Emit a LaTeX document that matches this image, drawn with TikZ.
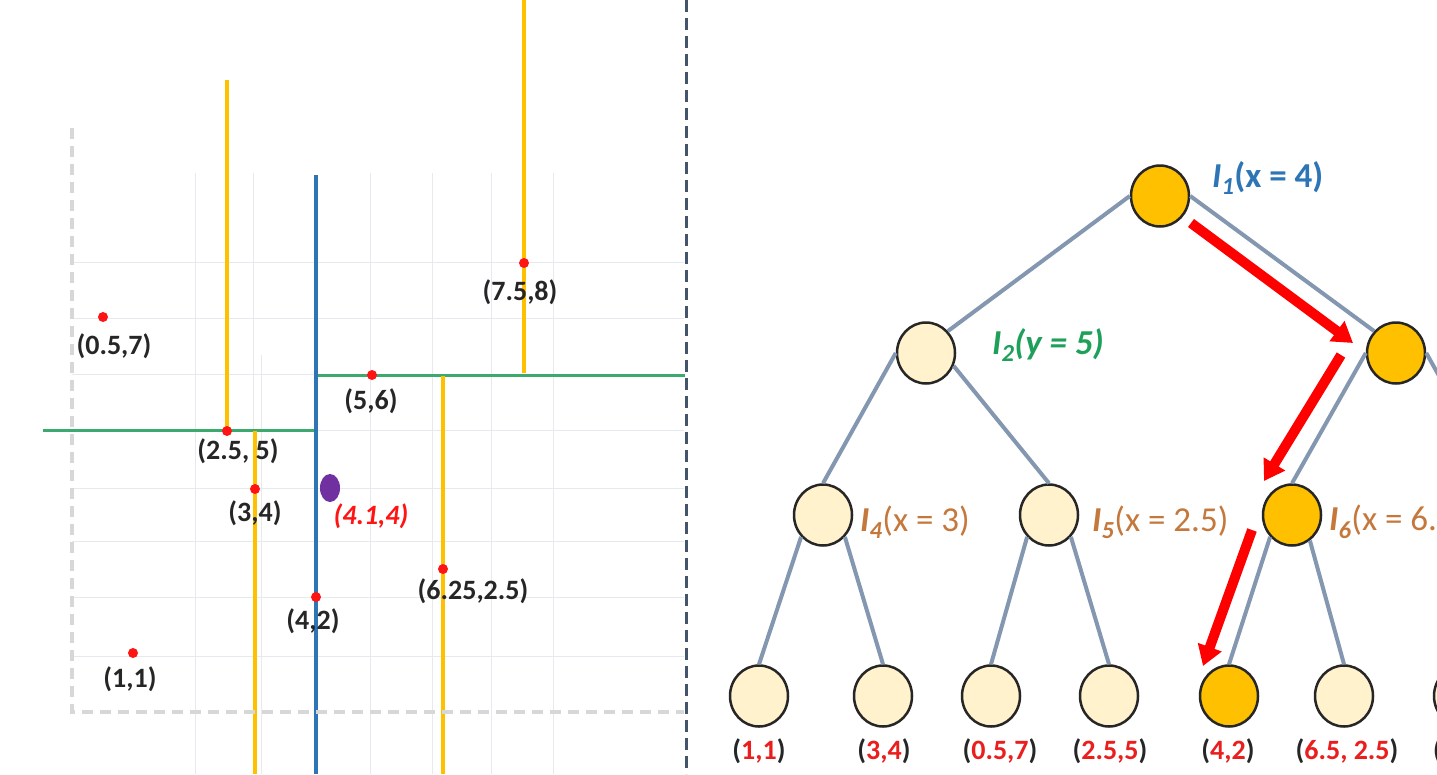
\documentclass[tikz,border=0pt]{standalone}
\usepackage{fontspec}
\setmainfont{Carlito}
\usetikzlibrary{arrows.meta,shapes.geometric}
\definecolor{gridc}{RGB}{230,234,239}
\definecolor{bndc}{RGB}{215,215,215}
\definecolor{divc}{RGB}{68,84,106}
\definecolor{splitblue}{RGB}{46,117,182}
\definecolor{splitgreen}{RGB}{60,170,110}
\definecolor{splityellow}{RGB}{255,192,0}
\definecolor{ptred}{RGB}{255,20,20}
\definecolor{qpurple}{RGB}{112,48,160}
\definecolor{edgec}{RGB}{132,151,176}
\definecolor{lightfill}{RGB}{255,242,204}
\definecolor{hotfill}{RGB}{255,192,0}
\definecolor{lblblue}{RGB}{46,117,182}
\definecolor{lblgreen}{RGB}{30,160,90}
\definecolor{lblorange}{RGB}{197,120,60}
\definecolor{leafred}{RGB}{235,30,30}
\newcommand{\lvsub}[1]{\textsubscript{#1}}
\begin{document}
\begin{tikzpicture}[x=1pt,y=-1pt,
  gridline/.style={draw=gridc,line width=1pt},
  pt/.style={circle,fill=ptred,inner sep=0pt,minimum size=10pt},
  ptlabel/.style={inner sep=0pt,font=\fontsize{28pt}{30pt}\selectfont\bfseries,text=black!85},
  treenode/.style={ellipse,draw=black!85,line width=2.5pt,minimum width=58pt,minimum height=61pt,inner sep=0pt},
  cool/.style={treenode,fill=lightfill},
  hot/.style={treenode,fill=hotfill},
  edge/.style={draw=edgec,line width=4pt},
  lvlabel/.style={anchor=west,inner sep=0pt,font=\fontsize{35pt}{37pt}\selectfont},
  leaflabel/.style={inner sep=0pt,font=\fontsize{28pt}{30pt}\selectfont\bfseries,text=black!85},
  searcharrow/.style={draw=red,line width=10pt,-{Triangle[width=24pt,length=20pt]}}
]
\useasboundingbox (0,0) rectangle (1437,774);
\clip (0,0) rectangle (1437,774);
\fill[white] (0,0) rectangle (1437,774);

% ---------- left panel: faint grid ----------
\foreach \gx in {195,253,370,432,491,553} \draw[gridline] (\gx,173) -- (\gx,774);
\draw[gridline] (261,355) -- (261,774);
\foreach \gy in {262,318,374,430,488,541,597,656} \draw[gridline] (72,\gy) -- (684,\gy);

% ---------- split lines ----------
\draw[draw=splitgreen,line width=3pt] (43,430) -- (316,430);
\draw[draw=splitgreen,line width=3pt] (316,375) -- (685,375);
\draw[draw=splityellow,line width=4pt] (227,80) -- (227,431);
\draw[draw=splityellow,line width=4pt] (255,431) -- (255,774);
\draw[draw=splityellow,line width=4pt] (443,376) -- (443,774);
\draw[draw=splityellow,line width=4pt] (524,0) -- (524,373);
\draw[draw=splitblue,line width=4pt] (316,175) -- (316,774);

% ---------- boundary and divider ----------
\draw[draw=bndc,line width=3.5pt,dash pattern=on 11pt off 7pt] (72,128) -- (72,712) -- (684,712);
\draw[draw=divc,line width=3pt,dash pattern=on 12pt off 6pt] (686,0) -- (686,774);

% ---------- points ----------
\node[pt] (p1) at (103,317) {};
\node[pt] (p2) at (227,431) {};
\node[pt] (p3) at (255,489) {};
\node[pt] (p4) at (372,375) {};
\node[pt] (p5) at (524,263) {};
\node[pt] (p6) at (316,597) {};
\node[pt] (p7) at (443,569) {};
\node[pt] (p8) at (133,653) {};
\node[ellipse,fill=qpurple,inner sep=0pt,minimum width=20pt,minimum height=28pt] (q) at (330,488) {};

\node[ptlabel] (t1) at (114,346) {(0.5,7)};
\node[ptlabel] (t2) at (238,451) {(2.5, 5)};
\node[ptlabel] (t3) at (255,513) {(3,4)};
\node[ptlabel] (t4) at (371,401) {(5,6)};
\node[ptlabel] (t5) at (520,292) {(7.5,8)};
\node[ptlabel] (t6) at (313,621) {(4,2)};
\node[ptlabel] (t7) at (473,591) {(6.25,2.5)};
\node[ptlabel] (t8) at (130,679) {(1,1)};
\node[ptlabel,text=ptred,font=\fontsize{28pt}{30pt}\selectfont\bfseries\itshape] (tq) at (371,516) {(4.1,4)};

% ---------- right panel: tree nodes ----------
\node[hot]  (root) at (1160,196) {};
\node[cool] (l2a)  at (926,353) {};
\node[hot]  (l2b)  at (1396,353) {};
\node[cool] (l3a)  at (823,515) {};
\node[cool] (l3b)  at (1049,515) {};
\node[hot]  (l3c)  at (1292,515) {};
\coordinate (l3dtop) at (1500,485);
\node[cool] (f1) at (759,696) {};
\node[cool] (f2) at (883,696) {};
\node[cool] (f3) at (991,696) {};
\node[cool] (f4) at (1109,696) {};
\node[hot]  (f5) at (1229,696) {};
\node[cool] (f6) at (1344,696) {};
\node[cool] (f7) at (1463,696) {};

% edges
\draw[edge] (root.west) -- (l2a.45);
\draw[edge] (root.east) -- (l2b.135);
\draw[edge] (l2a.west) -- (l3a.north);
\draw[edge] (l2a.-25) -- (l3b.north);
\draw[edge] (l2b.west) -- (l3c.north);
\draw[edge] (l2b.east) -- (l3dtop);
\draw[edge] (l3a.225) -- (f1.north);
\draw[edge] (l3a.-45) -- (f2.north);
\draw[edge] (l3b.225) -- (f3.north);
\draw[edge] (l3b.-45) -- (f4.north);
\draw[edge] (l3c.225) -- (f5.north);
\draw[edge] (l3c.-55) -- (f6.north);

% level labels
\node[lvlabel,text=lblblue] (lab1) at (1212,178) {\textbf{\textit{I}\lvsub{\textit{1}}(x = 4)}};
\node[lvlabel,text=lblgreen] (lab2) at (992,345) {\textbf{\textit{I\lvsub{2}(y = 5)}}};
\node[lvlabel,text=lblorange] (lab4) at (860,522) {\textbf{\textit{I}}\lvsub{\textbf{\textit{4}}}(x = 3)};
\node[lvlabel,text=lblorange] (lab5) at (1092,522) {\textbf{\textit{I}}\lvsub{\textbf{\textit{5}}}(x = 2.5)};
\node[lvlabel,text=lblorange] (lab6) at (1329,522) {\textbf{\textit{I}}\lvsub{\textbf{\textit{6}}}(x = 6.5)};

% leaf labels
\node[leaflabel] (g1) at (759,751) {(\textcolor{leafred}{1,1})};
\node[leaflabel] (g2) at (884,751) {(\textcolor{leafred}{3,4})};
\node[leaflabel] (g3) at (1000,751) {(\textcolor{leafred}{0.5,7})};
\node[leaflabel] (g4) at (1110,751) {(\textcolor{leafred}{2.5,5})};
\node[leaflabel] (g5) at (1228,751) {(\textcolor{leafred}{4,2})};
\node[leaflabel] (g6) at (1347,751) {(\textcolor{leafred}{6.5, 2.5})};
\node[leaflabel,anchor=west] (g7) at (1433,751) {(};

% search path arrows
\coordinate (a1s) at (1191,223);
\coordinate (a1e) at (1353,343);
\coordinate (a2s) at (1341,355);
\coordinate (a2e) at (1264,481);
\coordinate (a3s) at (1252,530);
\coordinate (a3e) at (1203,666);
\draw[searcharrow] (a1s) -- (a1e);
\draw[searcharrow] (a2s) -- (a2e);
\draw[searcharrow] (a3s) -- (a3e);
\end{tikzpicture}
\end{document}
